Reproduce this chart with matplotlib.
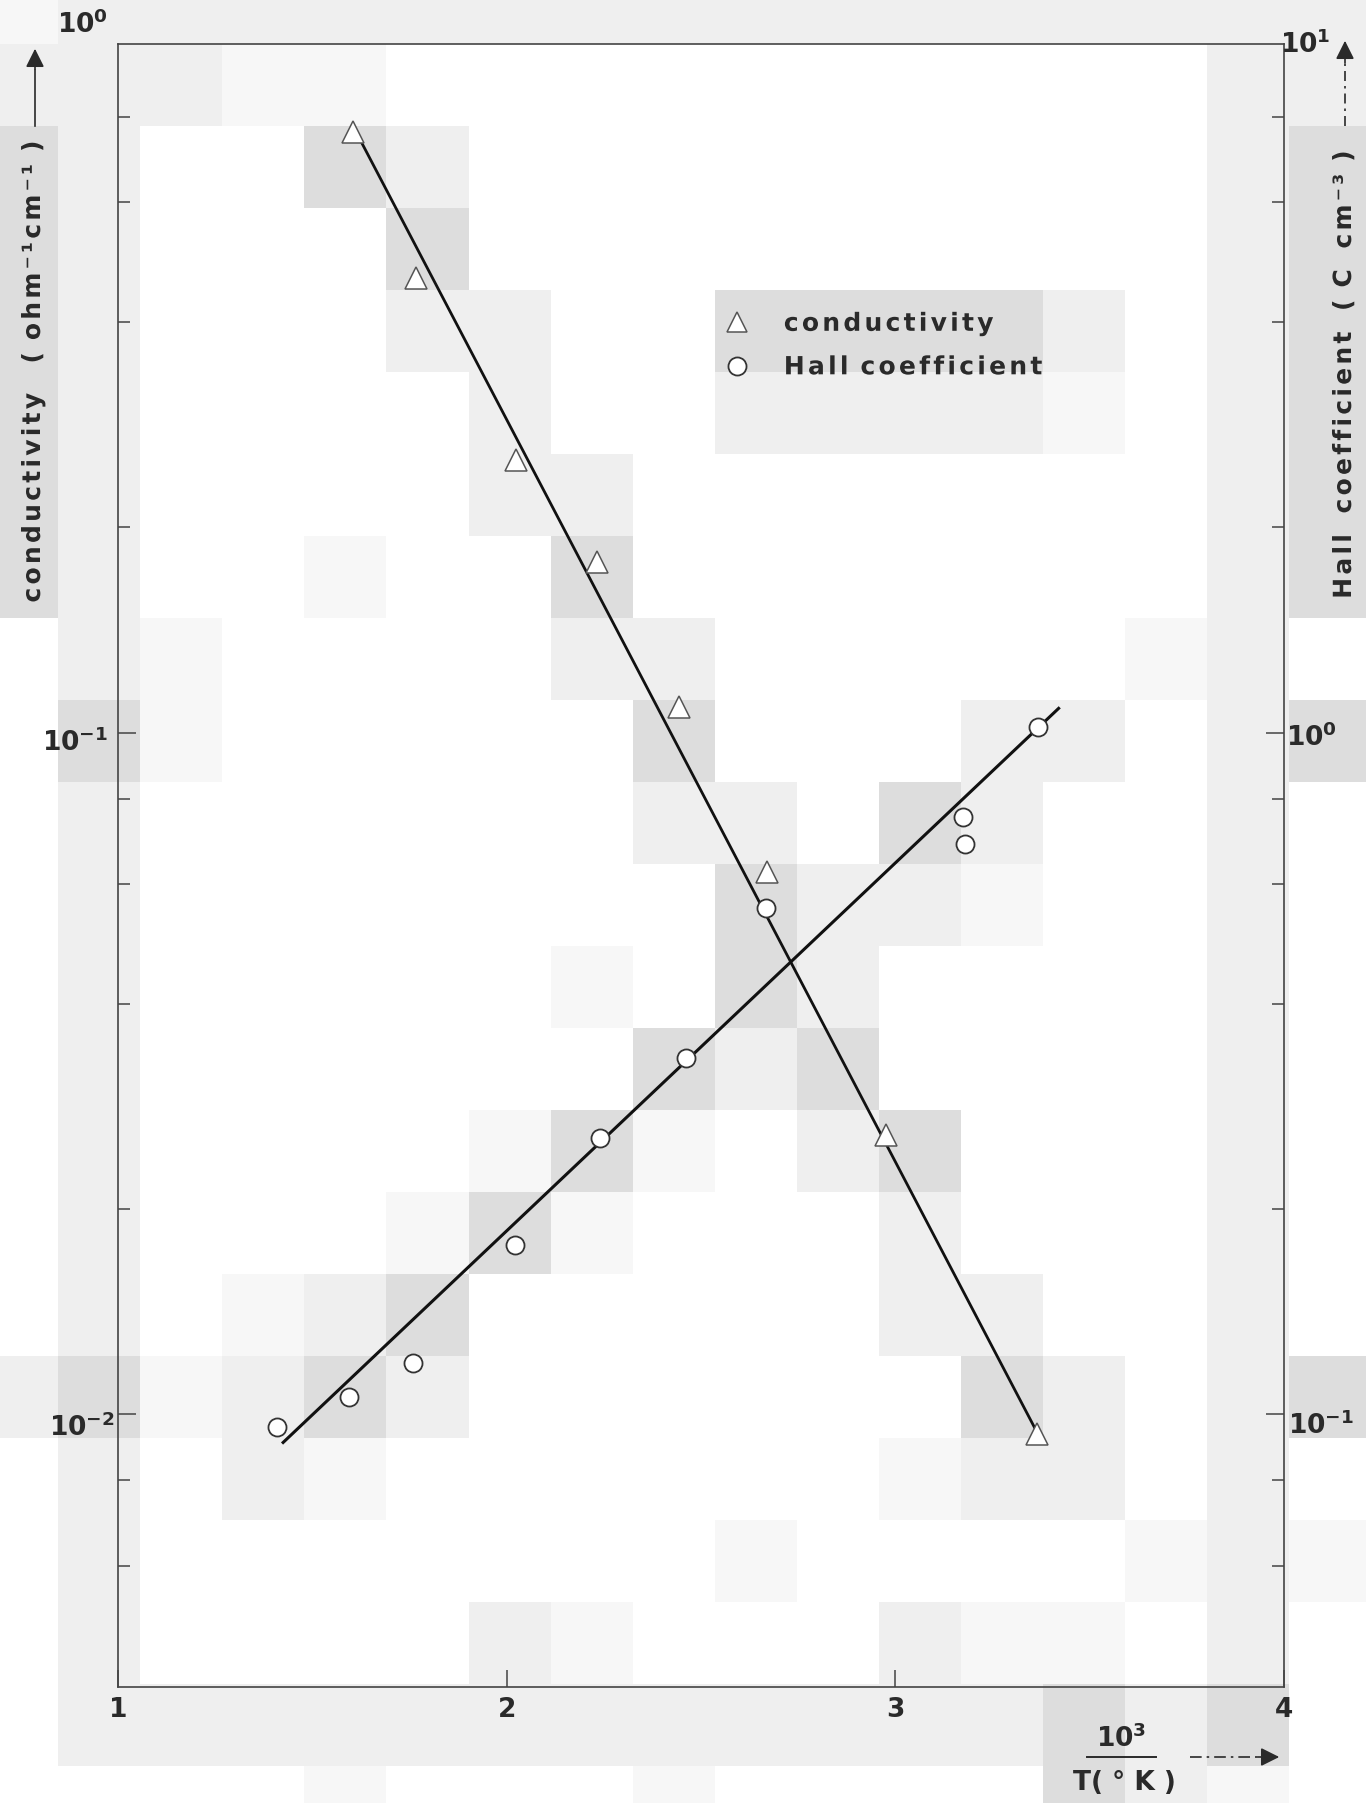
import numpy as np
import matplotlib
matplotlib.use("Agg")
import matplotlib.pyplot as plt
from matplotlib.lines import Line2D
from matplotlib.path import Path
from matplotlib.patheffects import AbstractPathEffect
from matplotlib.ticker import FixedLocator, NullFormatter
from matplotlib.font_manager import FontProperties

plt.rcParams["font.family"] = ["DejaVu Sans"]
plt.rcParams["mathtext.fontset"] = "dejavusans"

W, H, DPI = 1366, 1803, 100

# ---- measured data ---------------------------------------------------------
# 10^3 / T (K^-1)
inv_temp_cond = [1.605, 1.767, 2.024, 2.232, 2.443, 2.670, 2.976, 3.364]
conductivity = [0.760, 0.464, 0.251, 0.178, 0.109, 0.0625, 0.0257, 0.00935]   # ohm^-1 cm^-1

inv_temp_hall = [1.409, 1.594, 1.759, 2.021, 2.240, 2.461, 2.667, 3.174, 3.179, 3.367]
hall_coeff = [0.0957, 0.106, 0.119, 0.177, 0.254, 0.333, 0.552, 0.753, 0.687, 1.02]  # C cm^-3

# straight-line fits (end points)
cond_fit_x = [1.610, 3.365]
cond_fit_y = [0.765, 0.0094]
hall_fit_x = [1.422, 3.423]
hall_fit_y = [0.0906, 1.089]

# ---- axis ticks --------------------------------------------------------------
x_ticks = [1, 2, 3, 4]
x_tick_labels = ["1", "2", "3", "4"]
left_major = [0.1, 0.01]
left_minor = [0.8, 0.6, 0.4, 0.2, 0.08, 0.06, 0.04, 0.02, 0.008, 0.006]
right_major = [1.0, 0.1]
right_minor = [8, 6, 4, 2, 0.8, 0.6, 0.4, 0.2, 0.08, 0.06]

# ---- grey halftone backdrop (0 white ... 3 darkest) ---------------------------
shade_rows = [
    "12222222222222222",
    "22211000000000022",
    "32003200000000023",
    "32000300000000023",
    "32000220033332023",
    "32000020022221023",
    "32000022000000023",
    "32001003000000023",
    "02100002200000120",
    "03100000300022023",
    "02000000220320020",
    "02000000032210020",
    "02000001032000020",
    "02000000323000020",
    "02000013102300020",
    "02000131000200020",
    "02012300000220020",
    "23123200000032023",
    "02021000000122020",
    "02000000010000121",
    "02000021000211020",
    "02222222222223230",
    "00001000100003210",
]
shade_values = [1.0, 0.965, 0.937, 0.865]


class LetterSpacing(AbstractPathEffect):
    """Draws text with extra space between glyphs (tracking)."""

    def __init__(self, spacing_em, align=0.0):
        super().__init__()
        self.spacing = spacing_em * 100.0  # text paths use 100 units per em
        self.align = align

    def draw_path(self, renderer, gc, tpath, affine, rgbFace=None):
        codes = tpath.codes
        verts = np.array(tpath.vertices, dtype=float)
        if codes is None or len(verts) == 0:
            renderer.draw_path(gc, tpath, affine, rgbFace)
            return
        starts = list(np.flatnonzero(codes == Path.MOVETO)) + [len(codes)]
        shifts = np.zeros(len(verts))
        glyph = -1
        cur_max = -np.inf
        for a, b in zip(starts[:-1], starts[1:]):
            keep = codes[a:b] != Path.CLOSEPOLY
            xs = verts[a:b, 0][keep]
            if len(xs) == 0:
                continue
            lo, hi = xs.min(), xs.max()
            if lo >= cur_max - 1.0:
                glyph += 1
                cur_max = hi
            else:
                cur_max = max(cur_max, hi)
            shifts[a:b] = glyph * self.spacing
        total = max(glyph, 0) * self.spacing
        verts[:, 0] += shifts - self.align * total
        renderer.draw_path(gc, Path(verts, codes), affine, rgbFace)


def fx(px):
    return px / W


def fy(py):
    return 1.0 - py / H


fig = plt.figure(figsize=(W / DPI, H / DPI), dpi=DPI)
fig.patch.set_facecolor("white")

# backdrop
bg = fig.add_axes([0, 0, 1, 1], zorder=0)
levels = np.array([[int(c) for c in row] for row in shade_rows])
img = np.array(shade_values)[levels]
cell = 82.0
x0, y0 = -23.4, -38.0
bg.imshow(img, cmap="gray", vmin=0, vmax=1, interpolation="nearest", aspect="auto",
          extent=(x0, x0 + cell * levels.shape[1], y0 + cell * levels.shape[0], y0))
bg.set_xlim(0, W)
bg.set_ylim(H, 0)
bg.axis("off")

# main axes
left, right, top, bottom = 118, 1284, 44, 1687
ax = fig.add_axes([fx(left), fy(bottom), (right - left) / W, (bottom - top) / H], zorder=2)
ax.set_facecolor("none")
ax.set_xlim(1, 4)
ax.set_yscale("log")
ax.set_ylim(10 ** -2.40, 10 ** 0.01)

ax2 = ax.twinx()
ax2.set_facecolor("none")
ax2.set_yscale("log")
ax2.set_ylim(10 ** -1.40, 10 ** 1.01)

ink = "#2a2a2a"
for s in ax.spines.values():
    s.set_color("#444444")
    s.set_linewidth(1.2)
for s in ax2.spines.values():
    s.set_visible(False)

# ticks
ax.set_xticks(x_ticks)
ax.set_xticklabels(x_tick_labels, fontsize=19, fontweight="bold", color=ink)
ax.tick_params(axis="x", which="both", direction="in", length=12, width=1.1,
               color="#444444", pad=7, top=False)

ax.yaxis.set_major_locator(FixedLocator(left_major))
ax.yaxis.set_minor_locator(FixedLocator(left_minor))
ax.yaxis.set_major_formatter(NullFormatter())
ax.yaxis.set_minor_formatter(NullFormatter())
ax.tick_params(axis="y", which="major", direction="in", length=13, width=1.1, color="#444444")
ax.tick_params(axis="y", which="minor", direction="in", length=8.5, width=1.1, color="#444444")

ax2.yaxis.set_major_locator(FixedLocator(right_major))
ax2.yaxis.set_minor_locator(FixedLocator(right_minor))
ax2.yaxis.set_major_formatter(NullFormatter())
ax2.yaxis.set_minor_formatter(NullFormatter())
ax2.tick_params(axis="y", which="major", direction="in", length=13, width=1.1, color="#444444")
ax2.tick_params(axis="y", which="minor", direction="in", length=8.5, width=1.1, color="#444444")

# data and fitted lines
ax.plot(cond_fit_x, cond_fit_y, color="#111111", lw=2.0, zorder=2, solid_capstyle="butt")
ax.plot(inv_temp_cond, conductivity, ls="none", marker="^", ms=15.5, mfc="white",
        mec="#555555", mew=1.1, zorder=3)
ax2.plot(hall_fit_x, hall_fit_y, color="#111111", lw=2.2, zorder=2, solid_capstyle="butt")
ax2.plot(inv_temp_hall, hall_coeff, ls="none", marker="o", ms=13, mfc="white",
         mec="#333333", mew=1.3, zorder=3)

# legend
handles = [
    Line2D([], [], ls="none", marker="^", ms=15, mfc="white", mec="#555555", mew=1.1),
    Line2D([], [], ls="none", marker="o", ms=13, mfc="white", mec="#333333", mew=1.3),
]
leg = ax2.legend(handles, ["conductivity", "Hall coefficient"], loc="upper left",
                 bbox_to_anchor=(0.520, 0.837), frameon=False,
                 prop=FontProperties(family="DejaVu Sans", weight="bold", size=18),
                 handlelength=1.0, handletextpad=1.38, labelspacing=0.78,
                 borderpad=0, borderaxespad=0)
for t in leg.get_texts():
    t.set_color(ink)
    t.set_path_effects([LetterSpacing(0.13, align=0.0)])

# decade labels
lab = dict(fontsize=19, color=ink)
fig.text(fx(108), fy(33), r"$\mathbf{10^{0}}$", ha="right", va="baseline", **lab)
fig.text(fx(108), fy(751), r"$\mathbf{10^{-1}}$", ha="right", va="baseline", **lab)
fig.text(fx(115), fy(1436), r"$\mathbf{10^{-2}}$", ha="right", va="baseline", **lab)
fig.text(fx(1280), fy(53), r"$\mathbf{10^{1}}$", ha="left", va="baseline", **lab)
fig.text(fx(1286), fy(746), r"$\mathbf{10^{0}}$", ha="left", va="baseline", **lab)
fig.text(fx(1288), fy(1434), r"$\mathbf{10^{-1}}$", ha="left", va="baseline", **lab)

# axis titles
t_left = fig.text(fx(33), fy(371), "conductivity   ( ohm⁻¹cm⁻¹ )", rotation=90,
                  ha="center", va="center", fontsize=18, fontweight="bold", color=ink)
t_left.set_path_effects([LetterSpacing(0.13, align=0.5)])
t_right = fig.text(fx(1344), fy(374), "Hall  coefficient  ( C  cm⁻³ )", rotation=90,
                   ha="center", va="center", fontsize=18, fontweight="bold", color=ink)
t_right.set_path_effects([LetterSpacing(0.13, align=0.5)])

# upward arrows above the axis titles
fig.add_artist(Line2D([fx(35), fx(35)], [fy(126), fy(70)], color=ink, lw=1.2))
ax.annotate("", xy=(fx(35), fy(46)), xytext=(fx(35), fy(72)), xycoords="figure fraction",
            arrowprops=dict(arrowstyle="-|>", color=ink, lw=1.2, mutation_scale=28))
fig.add_artist(Line2D([fx(1345), fx(1345)], [fy(126), fy(64)], color=ink, lw=1.2,
                      ls=(0, (6, 3, 1.5, 3))))
ax.annotate("", xy=(fx(1345), fy(38)), xytext=(fx(1345), fy(66)), xycoords="figure fraction",
            arrowprops=dict(arrowstyle="-|>", color=ink, lw=1.2, mutation_scale=28))

# x-axis title: 10^3 / T(K) with arrow
fig.text(fx(1121), fy(1747), r"$\mathbf{10^{3}}$", ha="center", va="baseline", **lab)
fig.add_artist(Line2D([fx(1087), fx(1156)], [fy(1757), fy(1757)], color=ink, lw=1.4))
fig.add_artist(Line2D([fx(1190), fx(1258)], [fy(1757), fy(1757)], color=ink, lw=1.2,
                      ls=(0, (7, 3, 1.5, 3))))
ax.annotate("", xy=(fx(1282), fy(1757)), xytext=(fx(1255), fy(1757)), xycoords="figure fraction",
            arrowprops=dict(arrowstyle="-|>", color=ink, lw=1.2, mutation_scale=28))
fig.text(fx(1124), fy(1783), "T( ° K )", ha="center", va="center", fontsize=19,
         fontweight="bold", color=ink)

fig.savefig("out.png", dpi=DPI, facecolor="white")
